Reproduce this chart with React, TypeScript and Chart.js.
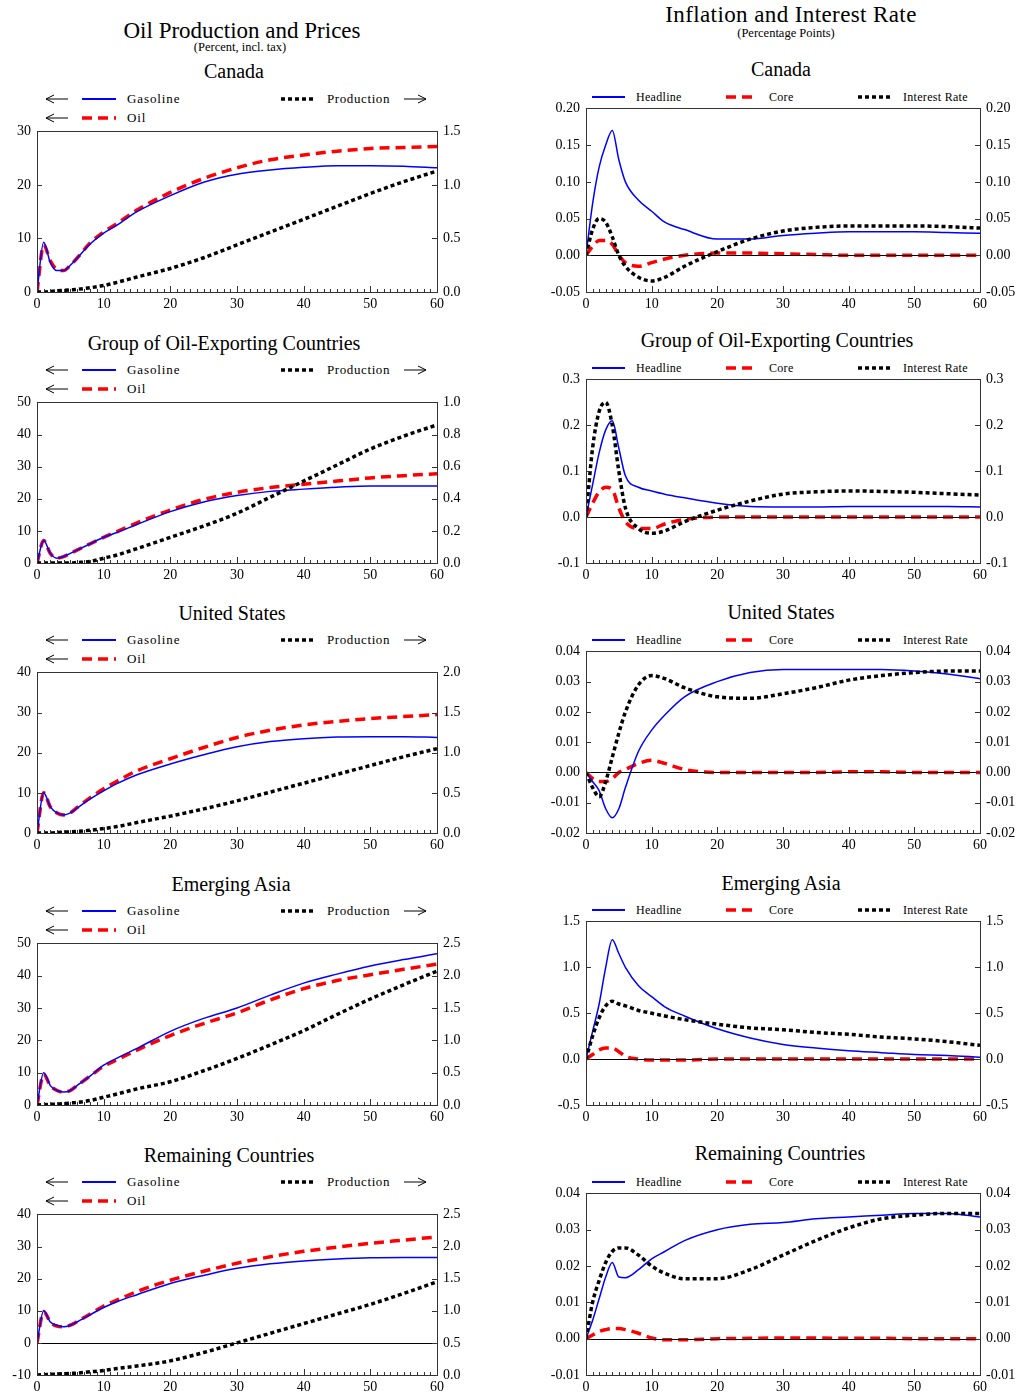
import { useEffect, useRef } from "react"
import { Chart, registerables } from "chart.js"

Chart.register(...registerables)

const FONT = "'Liberation Serif', 'DejaVu Serif', serif"

// horizons (quarters) where values were read
const steps = [0, 1, 2, 3, 4, 5, 6, 8, 10, 12, 15, 20, 25, 30, 35, 40, 45, 50, 55, 60]

// left column: gasoline / oil prices (left axis), production (right axis)
const caGas = [0, 9.3, 5.5, 4, 4, 5, 6.3, 9, 11, 12.5, 15, 18, 20.5, 22, 22.8, 23.3, 23.6, 23.6, 23.5, 23.2]
const caOil = [0, 8.8, 5.8, 4.2, 4, 5, 6.3, 9.2, 11.2, 12.8, 15.3, 18.6, 21.2, 23.2, 24.7, 25.6, 26.3, 26.8, 27, 27.2]
const caProd = [0, 0, 0.005, 0.01, 0.015, 0.02, 0.025, 0.04, 0.06, 0.09, 0.14, 0.22, 0.32, 0.44, 0.56, 0.68, 0.8, 0.92, 1.03, 1.13]

const gxGas = [0, 7, 3, 1.5, 2, 3, 4, 6, 8, 9.5, 12, 16, 19, 21, 22.3, 23, 23.6, 24, 24, 24]
const gxOil = [0, 7, 3, 1.5, 2, 3, 4, 6, 8, 9.8, 12.5, 16.5, 19.8, 22, 23.5, 24.5, 25.5, 26.5, 27.2, 27.8]
const gxProd = [0, 0, 0, 0, 0, 0, 0.003, 0.01, 0.03, 0.05, 0.09, 0.16, 0.23, 0.31, 0.41, 0.51, 0.61, 0.71, 0.79, 0.86]

const usGas = [0, 10, 6.5, 5, 4.5, 5, 6.2, 8.5, 10.5, 12.3, 14.5, 17.2, 19.5, 21.5, 22.8, 23.5, 23.9, 24, 24, 23.8]
const usOil = [0, 10, 6.5, 5, 4.5, 5, 6.3, 8.8, 11, 12.9, 15.5, 18.5, 21.3, 23.8, 25.6, 26.9, 27.8, 28.5, 29, 29.5]
const usProd = [0, 0, 0, 0.005, 0.01, 0.015, 0.02, 0.035, 0.055, 0.08, 0.13, 0.21, 0.3, 0.4, 0.51, 0.62, 0.73, 0.84, 0.95, 1.05]

const eaGas = [0, 10, 6, 4.5, 4, 4.5, 6, 9, 12.3, 14.5, 17.5, 22.8, 26.8, 30, 34, 37.7, 40.5, 43, 45, 46.8]
const eaOil = [0, 9.5, 6, 4.5, 4, 4.5, 6, 9, 12, 14, 17, 21.5, 25.2, 28.5, 32.5, 36, 38.5, 40.3, 42, 43.6]
const eaProd = [0, 0.005, 0.01, 0.015, 0.02, 0.03, 0.04, 0.07, 0.12, 0.17, 0.25, 0.36, 0.53, 0.72, 0.93, 1.15, 1.4, 1.64, 1.86, 2.07]

const rcGas = [0, 10, 6.5, 5.5, 5, 5.5, 6.5, 8.8, 11, 12.8, 15, 18.5, 21, 23.2, 24.6, 25.5, 26.1, 26.5, 26.6, 26.6]
const rcOil = [0, 9.8, 6.5, 5.2, 5, 5.5, 6.6, 9, 11.5, 13.3, 16, 19.5, 22.3, 24.8, 26.8, 28.5, 29.8, 31, 32, 33]
const rcProd = [0, 0.005, 0.01, 0.015, 0.02, 0.025, 0.03, 0.05, 0.07, 0.1, 0.14, 0.22, 0.35, 0.5, 0.65, 0.8, 0.95, 1.1, 1.27, 1.45]

// right column: headline / core inflation, interest rate
const caHead = [0, 0.07, 0.12, 0.15, 0.17, 0.13, 0.1, 0.075, 0.06, 0.045, 0.035, 0.022, 0.022, 0.027, 0.03, 0.032, 0.032, 0.032, 0.031, 0.03]
const caCore = [0, 0.012, 0.02, 0.02, 0.015, 0, -0.01, -0.015, -0.01, -0.005, 0, 0.003, 0.003, 0.002, 0.001, 0, 0, 0, 0, 0]
const caRate = [0, 0.035, 0.05, 0.045, 0.025, 0, -0.015, -0.03, -0.035, -0.03, -0.015, 0.005, 0.022, 0.033, 0.038, 0.04, 0.04, 0.04, 0.039, 0.037]

const gxHead = [0, 0.07, 0.14, 0.19, 0.21, 0.15, 0.09, 0.065, 0.057, 0.05, 0.042, 0.03, 0.023, 0.022, 0.022, 0.023, 0.023, 0.023, 0.023, 0.022]
const gxCore = [0, 0.03, 0.055, 0.065, 0.06, 0.02, -0.01, -0.025, -0.025, -0.015, -0.005, 0, 0, 0, 0, 0, 0, 0, 0, 0]
const gxRate = [0, 0.15, 0.23, 0.25, 0.2, 0.1, 0.02, -0.025, -0.035, -0.03, -0.01, 0.015, 0.035, 0.05, 0.055, 0.057, 0.056, 0.054, 0.051, 0.048]

const usHead = [0, -0.003, -0.006, -0.012, -0.015, -0.012, -0.005, 0.007, 0.014, 0.019, 0.025, 0.03, 0.033, 0.034, 0.034, 0.034, 0.034, 0.0335, 0.0325, 0.031]
const usCore = [0, -0.002, -0.003, -0.003, -0.002, 0, 0.001, 0.003, 0.004, 0.003, 0.001, 0, 0, 0, 0, 0.0002, 0.0002, 0, 0, 0]
const usRate = [0, -0.005, -0.008, -0.003, 0.005, 0.013, 0.02, 0.029, 0.032, 0.031, 0.028, 0.025, 0.0245, 0.026, 0.028, 0.0305, 0.032, 0.033, 0.0335, 0.0335]

const eaHead = [0, 0.3, 0.6, 1.0, 1.3, 1.15, 1.0, 0.8, 0.68, 0.57, 0.47, 0.33, 0.23, 0.16, 0.12, 0.09, 0.07, 0.05, 0.04, 0.02]
const eaCore = [0, 0.05, 0.1, 0.12, 0.12, 0.08, 0.03, 0, -0.01, -0.01, -0.01, 0, 0, 0, 0, 0, 0, 0, 0, 0]
const eaRate = [0, 0.25, 0.45, 0.58, 0.63, 0.6, 0.58, 0.53, 0.5, 0.47, 0.43, 0.38, 0.34, 0.32, 0.29, 0.27, 0.24, 0.22, 0.19, 0.15]

const rcHead = [0, 0.005, 0.011, 0.017, 0.021, 0.017, 0.0168, 0.019, 0.022, 0.024, 0.027, 0.03, 0.0315, 0.032, 0.033, 0.0335, 0.034, 0.0345, 0.0345, 0.0335]
const rcCore = [0, 0.001, 0.002, 0.0025, 0.0028, 0.0028, 0.0025, 0.0015, 0.0002, -0.0003, -0.0003, 0, 0.0001, 0.0002, 0.0002, 0.0001, 0.0001, 0, 0, 0]
const rcRate = [0, 0.01, 0.016, 0.021, 0.024, 0.025, 0.025, 0.023, 0.02, 0.018, 0.0165, 0.0165, 0.019, 0.023, 0.027, 0.0305, 0.033, 0.034, 0.0345, 0.0345]

const pts = (v: number[]) => v.map((y, i) => ({ x: steps[i], y }))

const frame = {
  id: "frame",
  afterDraw(chart: any, _a: any, opts: any) {
    const { ctx, chartArea: a, scales } = chart
    ctx.save()
    ctx.strokeStyle = "#000"
    ctx.lineWidth = 1
    if (opts.zero) {
      const py = Math.round(scales.y.getPixelForValue(0)) + 0.5
      ctx.beginPath()
      ctx.moveTo(a.left, py)
      ctx.lineTo(a.right, py)
      ctx.stroke()
    }
    ctx.strokeStyle = "#333"
    ctx.strokeRect(Math.round(a.left) + 0.5, Math.round(a.top) + 0.5, Math.round(a.right - a.left), Math.round(a.bottom - a.top))
    ctx.beginPath()
    for (let i = 0; i <= 60; i++) {
      const px = Math.round(scales.x.getPixelForValue(i)) + 0.5
      const len = i % 10 === 0 ? 6 : 3
      ctx.moveTo(px, a.bottom)
      ctx.lineTo(px, a.bottom - len)
    }
    for (const id of ["y", "y1"]) {
      const s = scales[id]
      s.ticks.forEach((t: any) => {
        const py = Math.round(s.getPixelForValue(t.value)) + 0.5
        const x0 = s.position === "left" ? a.left : a.right
        const d = s.position === "left" ? 5 : -5
        ctx.moveTo(x0, py)
        ctx.lineTo(x0 + d, py)
      })
    }
    ctx.stroke()
    ctx.restore()
  },
}

type Axis = { min: number; max: number; step: number; dec: number }

interface PanelProps {
  left: number
  top: number
  w: number
  h: number
  lw: number
  rw: number
  y: Axis
  y1: Axis
  zero: boolean
  sets: { data: number[]; color: string; width: number; dash: number[]; axis: string }[]
}

function Panel({ left, top, w, h, lw, rw, y, y1, zero, sets }: PanelProps) {
  const ref = useRef<HTMLCanvasElement>(null)
  const inst = useRef<Chart | null>(null)
  const offs = 13
  const xh = 22

  useEffect(() => {
    if (!ref.current) return
    if (inst.current) inst.current.destroy()
    const yAxis = (ax: Axis, pos: string, width: number) => ({
      type: "linear" as const,
      position: pos,
      min: ax.min,
      max: ax.max,
      afterFit: (s: any) => {
        s.width = width
      },
      grid: { display: false, drawTicks: false },
      border: { display: false },
      ticks: {
        stepSize: ax.step,
        padding: 6,
        color: "#000",
        font: { family: FONT, size: 14 },
        callback: (v: any) => Number(v).toFixed(ax.dec),
      },
    })
    inst.current = new Chart(ref.current, {
      type: "line",
      data: {
        datasets: sets.map((s) => ({
          data: pts(s.data),
          borderColor: s.color,
          borderWidth: s.width,
          borderDash: s.dash,
          pointRadius: 0,
          cubicInterpolationMode: "monotone" as const,
          yAxisID: s.axis,
        })),
      },
      options: {
        animation: false,
        responsive: false,
        layout: { padding: { top: 8 } },
        plugins: { legend: { display: false }, tooltip: { enabled: false }, frame: { zero } } as any,
        scales: {
          x: {
            type: "linear",
            min: 0,
            max: 60,
            afterFit: (s: any) => {
              s.height = xh
            },
            grid: { display: false, drawTicks: false },
            border: { display: false },
            ticks: { stepSize: 10, padding: 4, color: "#000", font: { family: FONT, size: 14 } },
          },
          y: yAxis(y, "left", lw) as any,
          y1: yAxis(y1, "right", rw) as any,
        },
      },
      plugins: [frame],
    })
    return () => {
      if (inst.current) inst.current.destroy()
      inst.current = null
    }
  }, [])

  return (
    <canvas
      ref={ref}
      width={w + lw + rw}
      height={h + offs + xh}
      style={{ position: "absolute", left: left - lw, top: top - offs }}
    />
  )
}

const txt = (x: number, y: number, s: string, size: number, center = true, ls = 0) => (
  <div
    style={{
      position: "absolute",
      left: center ? x - 300 : x,
      top: y - size * 0.6,
      width: center ? 600 : undefined,
      textAlign: center ? "center" : "left",
      fontSize: size,
      letterSpacing: ls,
      lineHeight: `${size * 1.2}px`,
      whiteSpace: "nowrap",
      fontFamily: FONT,
    }}
  >
    {s}
  </div>
)

function Sample({ x, y, w, color, width, dash }: { x: number; y: number; w: number; color: string; width: number; dash?: string }) {
  return (
    <svg style={{ position: "absolute", left: x, top: y - 5 }} width={w} height={10}>
      <line x1={0} y1={5} x2={w} y2={5} stroke={color} strokeWidth={width} strokeDasharray={dash} />
    </svg>
  )
}

function Arrow({ x, y, dir }: { x: number; y: number; dir: number }) {
  const a = dir < 0 ? 0 : 22
  const b = dir < 0 ? 22 : 0
  return (
    <svg style={{ position: "absolute", left: x, top: y - 5 }} width={23} height={10}>
      <path d={`M${b} 5 L${a} 5 M${a - dir * 8} 1 L${a} 5 L${a - dir * 8} 9`} stroke="#000" strokeWidth={1} fill="none" />
    </svg>
  )
}

const GAS = "#0000ff"
const RED = "#ff0000"
const BLK = "#000"

const leftPanels = [
  { title: "Canada", gas: caGas, oil: caOil, prod: caProd, y: { min: 0, max: 30, step: 10, dec: 0 }, y1: { min: 0, max: 1.5, step: 0.5, dec: 1 }, zero: false },
  { title: "Group of Oil-Exporting Countries", gas: gxGas, oil: gxOil, prod: gxProd, y: { min: 0, max: 50, step: 10, dec: 0 }, y1: { min: 0, max: 1.0, step: 0.2, dec: 1 }, zero: false },
  { title: "United States", gas: usGas, oil: usOil, prod: usProd, y: { min: 0, max: 40, step: 10, dec: 0 }, y1: { min: 0, max: 2.0, step: 0.5, dec: 1 }, zero: false },
  { title: "Emerging Asia", gas: eaGas, oil: eaOil, prod: eaProd, y: { min: 0, max: 50, step: 10, dec: 0 }, y1: { min: 0, max: 2.5, step: 0.5, dec: 1 }, zero: false },
  { title: "Remaining Countries", gas: rcGas, oil: rcOil, prod: rcProd, y: { min: -10, max: 40, step: 10, dec: 0 }, y1: { min: 0, max: 2.5, step: 0.5, dec: 1 }, zero: true },
]

const rightPanels = [
  { title: "Canada", head: caHead, core: caCore, rate: caRate, y: { min: -0.05, max: 0.2, step: 0.05, dec: 2 } },
  { title: "Group of Oil-Exporting Countries", head: gxHead, core: gxCore, rate: gxRate, y: { min: -0.1, max: 0.3, step: 0.1, dec: 1 } },
  { title: "United States", head: usHead, core: usCore, rate: usRate, y: { min: -0.02, max: 0.04, step: 0.01, dec: 2 } },
  { title: "Emerging Asia", head: eaHead, core: eaCore, rate: eaRate, y: { min: -0.5, max: 1.5, step: 0.5, dec: 1 } },
  { title: "Remaining Countries", head: rcHead, core: rcCore, rate: rcRate, y: { min: -0.01, max: 0.04, step: 0.01, dec: 2 } },
]

const leftTops = [130, 401, 671, 942, 1213]
const rightTops = [107, 378, 650, 920, 1192]
const bottoms = [292, 563, 833, 1105, 1375]
const leftTitleY = [71, 343, 613, 884, 1155]
const leftTitleX = [234, 224, 232, 231, 229]
const rightTitleY = [69, 340, 612, 883, 1153]
const rightTitleX = [781, 777, 781, 781, 780]

export default function App() {
  return (
    <div style={{ position: "absolute", left: 0, top: 0, width: 1030, height: 1395, background: "#fff", fontFamily: FONT }}>
      {txt(242, 31, "Oil Production and Prices", 23)}
      {txt(240, 47, "(Percent, incl. tax)", 12.5)}
      {txt(791, 15, "Inflation and Interest Rate", 23, true, 0.4)}
      {txt(786, 33, "(Percentage Points)", 12.5)}
      {leftPanels.map((p, i) => {
        const t = leftTops[i]
        const ly = t - 31
        return (
          <div key={"l" + i}>
            {txt(leftTitleX[i], leftTitleY[i], p.title, 20)}
            <Arrow x={46} y={ly} dir={-1} />
            <Sample x={82} y={ly} w={34} color={GAS} width={1.8} />
            {txt(127, ly, "Gasoline", 13, false, 0.9)}
            <Sample x={281} y={ly} w={34} color={BLK} width={3.5} dash="4 3" />
            {txt(327, ly, "Production", 13, false, 0.6)}
            <Arrow x={404} y={ly} dir={1} />
            <Arrow x={46} y={ly + 19} dir={-1} />
            <Sample x={82} y={ly + 19} w={34} color={RED} width={3.5} dash="10 6" />
            {txt(127, ly + 19, "Oil", 13, false, 0.9)}
            <Panel
              left={37}
              top={t}
              w={400}
              h={bottoms[i] - t}
              lw={37}
              rw={40}
              y={p.y}
              y1={p.y1}
              zero={p.zero}
              sets={[
                { data: p.prod, color: BLK, width: 3.5, dash: [4, 3], axis: "y1" },
                { data: p.gas, color: GAS, width: 1.5, dash: [], axis: "y" },
                { data: p.oil, color: RED, width: 3.5, dash: [10, 6], axis: "y" },
              ]}
            />
          </div>
        )
      })}
      {rightPanels.map((p, i) => {
        const t = rightTops[i]
        const ly = t - 10
        return (
          <div key={"r" + i}>
            {txt(rightTitleX[i], rightTitleY[i], p.title, 20)}
            <Sample x={592} y={ly} w={33} color={GAS} width={1.8} />
            {txt(636, ly, "Headline", 12, false, 0.3)}
            <Sample x={726} y={ly} w={32} color={RED} width={3.5} dash="10 6" />
            {txt(769, ly, "Core", 12, false, 0.3)}
            <Sample x={858} y={ly} w={34} color={BLK} width={3.5} dash="4 3" />
            {txt(903, ly, "Interest Rate", 12, false, 0.3)}
            <Panel
              left={586}
              top={t}
              w={394}
              h={bottoms[i] - t}
              lw={46}
              rw={46}
              y={p.y}
              y1={p.y}
              zero={true}
              sets={[
                { data: p.rate, color: BLK, width: 3.5, dash: [4, 3], axis: "y" },
                { data: p.head, color: GAS, width: 1.5, dash: [], axis: "y" },
                { data: p.core, color: RED, width: 3.5, dash: [10, 6], axis: "y" },
              ]}
            />
          </div>
        )
      })}
    </div>
  )
}
